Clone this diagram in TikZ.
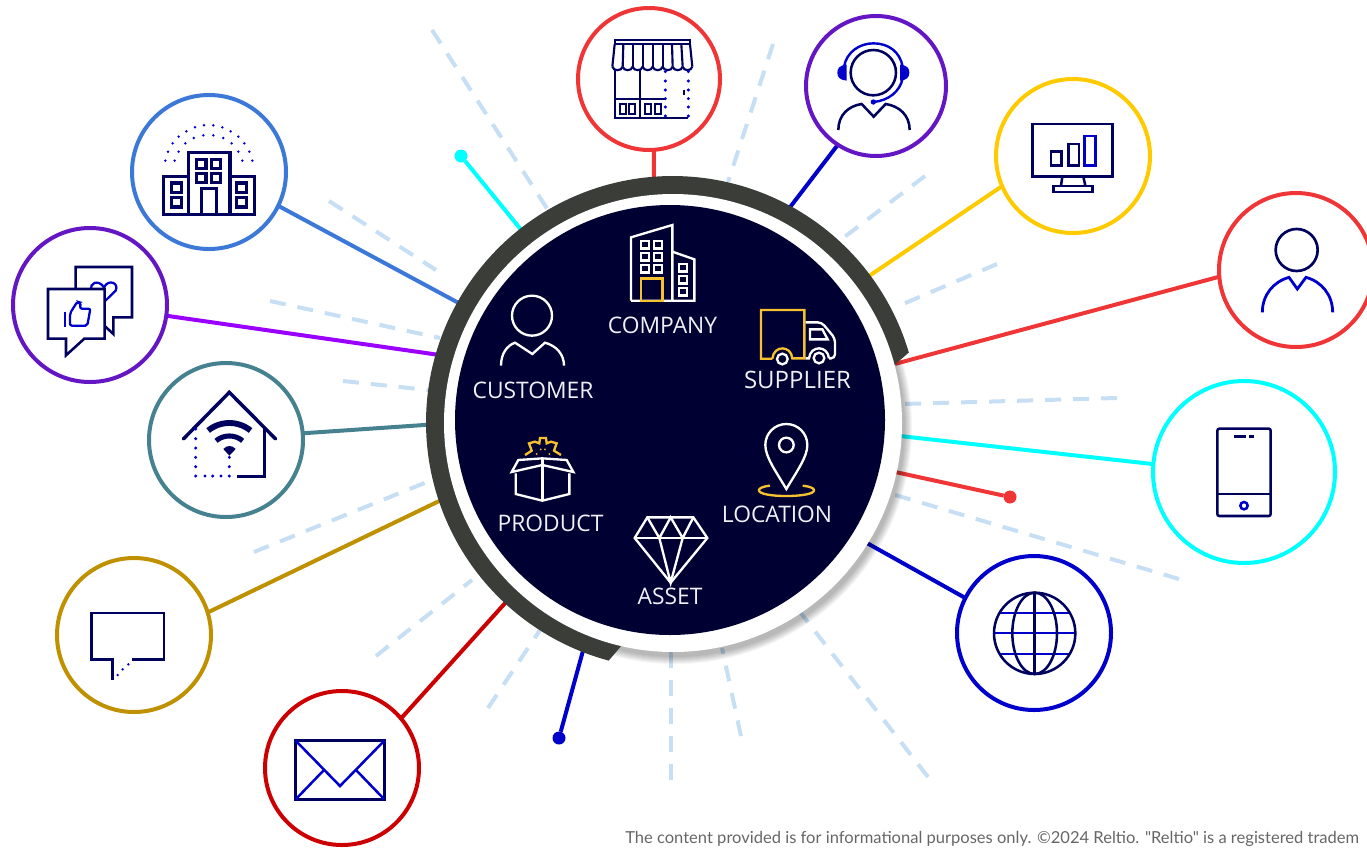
\documentclass[tikz,border=0pt]{standalone}
\usepackage{fontspec}
\setmainfont{Open Sans}
\newfontfamily\footfont{Lato}
\pgfdeclarelayer{bg}
\pgfdeclarelayer{mid}
\pgfsetlayers{bg,mid,main}
\definecolor{cnavy}{HTML}{00005E}
\definecolor{cblue}{HTML}{0000CC}
\definecolor{cdisc}{HTML}{000033}
\definecolor{carc}{HTML}{3A3D38}
\definecolor{cray}{HTML}{C6DFF5}
\definecolor{cred}{HTML}{EF3535}
\definecolor{cpurple}{HTML}{6415C4}
\definecolor{cyellow}{HTML}{FFCB00}
\definecolor{cgold}{HTML}{BF9000}
\definecolor{cteal}{HTML}{45818E}
\definecolor{csky}{HTML}{3C78D8}
\definecolor{cvio}{HTML}{9900FF}
\definecolor{cdred}{HTML}{CC0000}
\definecolor{ccyan}{HTML}{00FFFF}
\definecolor{cgy}{HTML}{F5C12E}
\definecolor{clabel}{HTML}{F0F0F6}
\tikzset{
  ring/.style n args={2}{circle,draw=#1,line width=3pt,minimum size=#2*1.5pt,inner sep=0pt,outer sep=0pt},
  link/.style={line width=3pt},
  ray/.style={draw=cray,line width=3pt,dash pattern=on 12pt off 9pt},
  dotend/.style={circle,minimum size=9.75pt,inner sep=0pt,outer sep=0pt},
  lab/.style={anchor=base,text=clabel,font=\fontsize{17.1}{20}\selectfont,inner sep=0pt},
  z/.style 2 args={shift={(#1,#2)},x=.25pt,y=-.25pt},
  wl/.style={draw=white,line width=1.75pt,line join=miter},
  yl/.style={draw=cgy,line width=1.75pt},
  nv/.style={draw=cnavy,line width=1.6pt},
  bl/.style={draw=cblue,line width=1.6pt}
}
\begin{document}
\begin{tikzpicture}[x=.75pt,y=-.75pt]
\useasboundingbox (0,0) rectangle (1367,847);

% outer rings
\node[ring={cred}{71}]    (store)   at (649,79)  {};
\node[ring={cpurple}{70}] (agent)   at (876,86)  {};
\node[ring={cyellow}{77}] (monitor) at (1073,156){};
\node[ring={cred}{77}]    (person)  at (1296,270){};
\node[ring={ccyan}{91}]   (phone)   at (1244,472){};
\node[ring={cblue}{77}]   (globe)   at (1034,633){};
\node[ring={cdred}{77}]   (mail)    at (342,768) {};
\node[ring={cgold}{77}]   (chat)    at (134,635) {};
\node[ring={cteal}{77}]   (home)    at (226,440) {};
\node[ring={cpurple}{77}] (likes)   at (90,305)  {};
\node[ring={csky}{77}]    (office)  at (209,172) {};
\node[dotend,fill=ccyan] (dcyan) at (461,156) {};
\node[dotend,fill=cred]  (dred)  at (1010,497) {};
\node[dotend,fill=cblue] (dblue) at (559,738)  {};

% hub: the plate, the disc, and the circle on which the connectors end
\node[circle,minimum size=348pt,inner sep=0pt,outer sep=0pt] (hub) at (670,420) {};
\node[circle,fill=white,minimum size=343.5pt,inner sep=0pt,outer sep=0pt] (plate) at (673,423) {};
\node[circle,fill=cdisc,minimum size=322.5pt,inner sep=0pt,outer sep=0pt] (core) at (670,420) {};

\begin{pgfonlayer}{bg}
  \foreach \xa/\ya/\xb/\yb in {432/30/548/210,773/44/728/182,925/176/843/238,997/264/903/304,
    1117/398/903/404,1179/579/892/494,928/777/800/612,741/736/722/648,671/780/671/652,
    488/708/540/630,376/656/472/580,254/552/432/480,343/381/428/390,270/301/440/338,329/201/436/270}
    {\draw[ray] (\xa,\ya) -- (\xb,\yb);}
  \draw[link,cred]    (store.-86.8)    -- (hub.94.2);
  \draw[link,cblue]   (agent.237.2)    -- (hub.61.3);
  \draw[link,cyellow] (monitor.203.7)  -- (hub.36.5);
  \draw[link,cred]    (person.185.9)   -- (hub.14.3);
  \draw[link,ccyan]   (phone.175)      -- (hub.-4.2);
  \draw[link,cblue]   (globe.153.4)    -- (hub.-32.4);
  \draw[link,cgold]   (chat.17.5)      -- (hub.199.1);
  \draw[link,cdred]   (mail.40.4)      -- (hub.228);
  \draw[link,cteal]   (home.5.1)       -- (hub.181.4);
  \draw[link,cvio]    (likes.-8.7)     -- (hub.164.9);
  \draw[link,csky]    (office.-26.9)   -- (hub.151.5);
  \draw[link,ccyan]   (dcyan)          -- (hub.128.7);
  \draw[link,cred]    (dred)           -- (hub.-13.9);
  \draw[link,cblue]   (dblue)          -- (hub.249.35);
\end{pgfonlayer}

\begin{pgfonlayer}{mid}
  \foreach \r in {230,231,...,237}
    {\fill[black,fill opacity=.04] (675,427) circle (\r);}
  \fill[carc] plot[domain=16.5:255,samples=160] ({672.5+246.5*cos(\x)},{422.5-246.5*sin(\x)})
     -- (640,624) -- (870,386) -- cycle;
\end{pgfonlayer}

% labels
\node[lab] (lcompany)  at (662.5,333) {COMPANY};
\node[lab] (lcustomer) at (533,398)   {CUSTOMER};
\node[lab,font=\fontsize{18}{20}\selectfont] (lsupplier) at (797.5,388) {SUPPLIER};
\node[lab] (lproduct)  at (550.5,531) {PRODUCT};
\node[lab] (llocation) at (777,522)   {LOCATION};
\node[lab] (lasset)    at (670,604)   {ASSET};

% ---- inner icons, upper half
\begin{scope}[z={460}{210}]
  % company
  \draw[wl] (513,272) -- (513,82) -- (637,45) -- (637,272);
  \draw[wl] (513,272) -- (703,272) -- (703,148) -- (637,125);
  \foreach \x in {542,582} \foreach \y in {92,128,164}
    {\draw[wl] (\x,\y) rectangle ++(24,23);}
  \foreach \y in {161,197,233}
    {\draw[wl] (656,\y) rectangle ++(24,23);}
  \draw[yl] (542,205) rectangle (607,272);
  % customer
  \draw[wl] (216,317) circle (60);
  \draw[wl] (123,467) .. controls (123,432) and (140,407) .. (165,398) -- (217,432) -- (255,398)
     .. controls (288,407) and (312,432) .. (312,467);
  % truck
  \draw[yl] (937,446) -- (903,446) -- (903,300) -- (1033,300) -- (1033,445) -- (997,445)
     .. controls (993,405) and (941,405) .. (937,446);
  \draw[wl] (967,447) circle (16);
  \draw[wl] (1077,444) circle (16);
  \draw[wl,rounded corners=3pt] (1037,337) -- (1085,337) -- (1125,385) -- (1125,445) -- (1107,445);
  \draw[wl] (1107,445) .. controls (1103,405) and (1051,405) .. (1047,445) -- (1037,445);
  \draw[wl] (1050,358) -- (1087,358) -- (1103,388) -- (1050,388) -- cycle;
\end{scope}

% ---- inner icons, lower half
\begin{scope}[z={480}{410}]
  % product
  \draw[yl] (135,135) -- (155,122) -- (147,100) -- (165,95) -- (178,100) -- (180,84) -- (198,84)
     -- (200,100) -- (213,95) -- (230,100) -- (222,122) -- (243,135);
  \fill[cgy] (170,132) circle (3) (182,118) circle (3) (195,118) circle (3) (208,132) circle (3);
  \draw[wl] (95,186) -- (115,150) -- (187,145) -- (260,150) -- (280,186) -- (187,165) -- cycle;
  \draw[wl] (187,145) -- (187,272);
  \draw[wl] (107,190) -- (107,252) -- (187,272) -- (268,252) -- (268,190);
  % location
  \draw[yl] (870,227) .. controls (845,230) and (837,235) .. (837,241)
     .. controls (837,252) and (875,258) .. (919,258)
     .. controls (963,258) and (1002,252) .. (1002,241)
     .. controls (1002,235) and (993,230) .. (968,227);
  \draw[wl] (919,237) .. controls (885,180) and (856,140) .. (856,105)
     .. controls (856,70) and (884,42) .. (919,42)
     .. controls (954,42) and (982,70) .. (982,105)
     .. controls (982,140) and (953,180) .. (919,237) -- cycle;
  \draw[wl] (919,105) circle (22);
  % asset
  \draw[wl] (502,322) -- (640,322) -- (682,384) -- (572,518) -- (464,384) -- cycle;
  \draw[wl] (464,384) -- (682,384);
  \draw[wl] (502,322) -- (538,384) -- (572,322) -- (608,384) -- (640,322);
  \draw[wl] (538,384) -- (572,518) -- (608,384);
\end{scope}

% ---- store
\begin{scope}[z={560}{0}]
  \draw[nv] (164,120) rectangle (390,133);
  \foreach \a/\b in {164/157,190/188,218/218,248/248,278/278,308/308,336/338,364/368,390/397}
    {\draw[nv] (\a,133) -- (\b,200);}
  \foreach \a/\b in {157/188,188/218,218/248,248/278,278/308,308/338,338/368,368/397}
    {\draw[nv] (\a,200) .. controls (\a+3,214) and (\b-3,214) .. (\b,200);}
  \draw[nv] (165,207) -- (165,353) -- (385,353);
  \draw[nv] (241,207) -- (241,353);
  \draw[nv] (165,297) -- (316,297);
  \foreach \x in {180,208,256,284} {\draw[nv] (\x,311) rectangle ++(18,30);}
  \foreach \x in {316,385} \foreach \y in {215,243,270,296,321,348}
    {\fill[cblue] (\x,\y) circle (5);}
  \draw[nv] (372,269) -- (372,285);
\end{scope}

% ---- headset agent
\begin{scope}[z={560}{0}]
  \draw[draw=cnavy,line width=1.9pt] (940,218) circle (68);
  \draw[draw=cnavy,line width=1.9pt] (835,390) .. controls (835,345) and (865,318) .. (905,312)
     -- (941,350) -- (977,312) .. controls (1017,318) and (1049,345) .. (1049,390);
  \draw[draw=cblue,line width=1.8pt] (852,200) .. controls (860,155) and (900,130) .. (940,130)
     .. controls (985,130) and (1020,155) .. (1028,200);
  \draw[draw=cblue,line width=1.8pt] (1028,235) .. controls (1020,275) and (985,302) .. (940,306);
  \fill[cblue] (940,306) circle (8);
  \fill[cblue] (860,194) .. controls (838,196) and (832,205) .. (832,218)
     .. controls (832,232) and (840,240) .. (860,242) -- cycle;
  \fill[cblue] (1020,194) .. controls (1042,196) and (1048,205) .. (1048,218)
     .. controls (1048,232) and (1040,240) .. (1020,242) -- cycle;
\end{scope}

% ---- monitor and person
\begin{scope}[z={980}{70}]
  \draw[nv,line width=1.9pt] (157,162) rectangle (397,320);
  \draw[nv,line width=1.9pt] (213,245) rectangle (245,287);
  \draw[nv,line width=1.9pt] (265,222) rectangle (297,287);
  \draw[bl,line width=1.9pt] (314,198) rectangle (346,287);
  \draw[nv,line width=1.9pt] (247,320) -- (243,347) (310,320) -- (316,347);
  \draw[nv,line width=1.9pt] (220,348) rectangle (338,366);
  \draw[draw=cnavy,line width=2pt] (950,540) circle (63);
  \draw[draw=cblue,line width=2.1pt] (847,727) .. controls (847,675) and (880,635) .. (927,622)
     -- (952,657) -- (978,622) .. controls (1025,635) and (1058,675) .. (1058,727);
\end{scope}

% ---- phone and globe
\begin{scope}[z={940}{370}]
  \draw[nv,line width=1.9pt,rounded corners=1.5pt] (832,176) rectangle (992,438);
  \draw[nv,line width=1.9pt] (832,372) -- (992,372);
  \draw[nv,line width=1.9pt] (882,200) -- (918,200) (928,200) -- (942,200);
  \draw[draw=cblue,line width=1.9pt] (912,407) circle (11);
  \draw[bl] (178,730) -- (390,730) (163,790) -- (405,790) (178,852) -- (390,852);
  \draw[nv,line width=1.9pt] (284,790) circle (122);
  \draw[nv,line width=1.9pt] (284,790) ellipse (67 and 122);
  \draw[nv,line width=1.9pt] (284,668) -- (284,912);
\end{scope}

% ---- chat and envelope
\begin{scope}[z={40}{550}]
  \draw[nv,line width=1.9pt] (218,390) -- (218,329) -- (154,329) -- (154,189) -- (372,189) -- (372,329) -- (275,329);
  \fill[cblue] (265,343) circle (4) (248,358) circle (4) (233,375) circle (4);
  \draw[nv,line width=2.4pt] (767,572) rectangle (1033,748);
  \draw[draw=cblue,line width=1.9pt] (767,572) -- (900,708) -- (1033,572);
  \draw[draw=cblue,line width=1.9pt] (767,748) -- (852,660) (1033,748) -- (948,660);
\end{scope}

% ---- home
\begin{scope}[z={140}{360}]
  \draw[nv,line width=2.6pt,line cap=round] (130,237) -- (268,97) -- (407,237);
  \draw[nv,line width=2.6pt] (373,205) -- (373,350) -- (290,350);
  \foreach \y in {207,236,264,292,320,348} {\fill[cblue] (167,\y) circle (5);}
  \foreach \x in {195,218,243,268} {\fill[cblue] (\x,348) circle (5);}
  \fill[cblue] (268,292) circle (5) (268,320) circle (5);
  \draw[draw=cnavy,line width=4.4pt] plot[domain=51:129,samples=24] ({268+101*cos(\x)},{290-101*sin(\x)});
  \draw[draw=cnavy,line width=3.8pt] plot[domain=50:130,samples=24] ({268+62*cos(\x)},{290-62*sin(\x)});
  \fill[cnavy] (250,267) .. controls (260,255) and (277,255) .. (287,267) -- (268,287) -- cycle;
\end{scope}

% ---- likes and office
\begin{scope}[z={0}{80}]
  \draw[nv,fill=white,line width=1.9pt] (227,561) -- (396,561) -- (396,712) -- (340,712) -- (340,762)
     -- (300,725) -- (227,725) -- cycle;
  \draw[bl,line width=1.7pt] (310,668) -- (276,630) .. controls (265,610) and (295,596) .. (312,622)
     .. controls (325,596) and (358,608) .. (347,632) -- cycle;
  \draw[nv,fill=white,line width=1.9pt] (144,627) -- (314,627) -- (314,776) -- (253,776) -- (198,826)
     -- (198,776) -- (144,776) -- cycle;
  \draw[bl,line width=1.7pt] (195,695) -- (195,740);
  \draw[bl,line width=1.7pt,rounded corners=1.5pt] (210,700) -- (232,665) -- (242,668) -- (240,686)
     -- (271,686) -- (262,737) -- (210,737) -- cycle;
  % office
  \draw[nv,line width=2.5pt] (565,218) rectangle (690,403);
  \draw[nv,line width=2.5pt] (491,290) rectangle (565,403);
  \draw[nv,line width=2.5pt] (690,290) rectangle (763,403);
  \draw[nv,line width=2.5pt] (605,325) rectangle (650,403);
  \foreach \x in {590,634} \foreach \y in {238,281}
    {\draw[nv,line width=2.5pt] (\x,\y) rectangle ++(28,27);}
  \foreach \x in {515,709} \foreach \y in {309,353}
    {\draw[nv,line width=2.5pt] (\x,\y) rectangle ++(30,28);}
  \foreach \x/\y in {496/242,504/215,518/190,536/170,559/154,585/142,612/136,640/136,667/142,692/154,715/170,733/190,748/215,757/242,
     524/242,536/215,556/190,581/174,610/166,640/166,670/174,695/190,715/215,727/242}
    {\fill[cblue] (\x,\y) circle (4.2);}
\end{scope}

% footer
\node[anchor=base west,inner sep=0pt,text=black!60,font=\footfont\fontsize{12.4}{14}\selectfont] (foot) at (625,843)
  {The content provided is for informational purposes only. ©2024 Reltio. "Reltio" is a registered tradem};
\end{tikzpicture}
\end{document}
